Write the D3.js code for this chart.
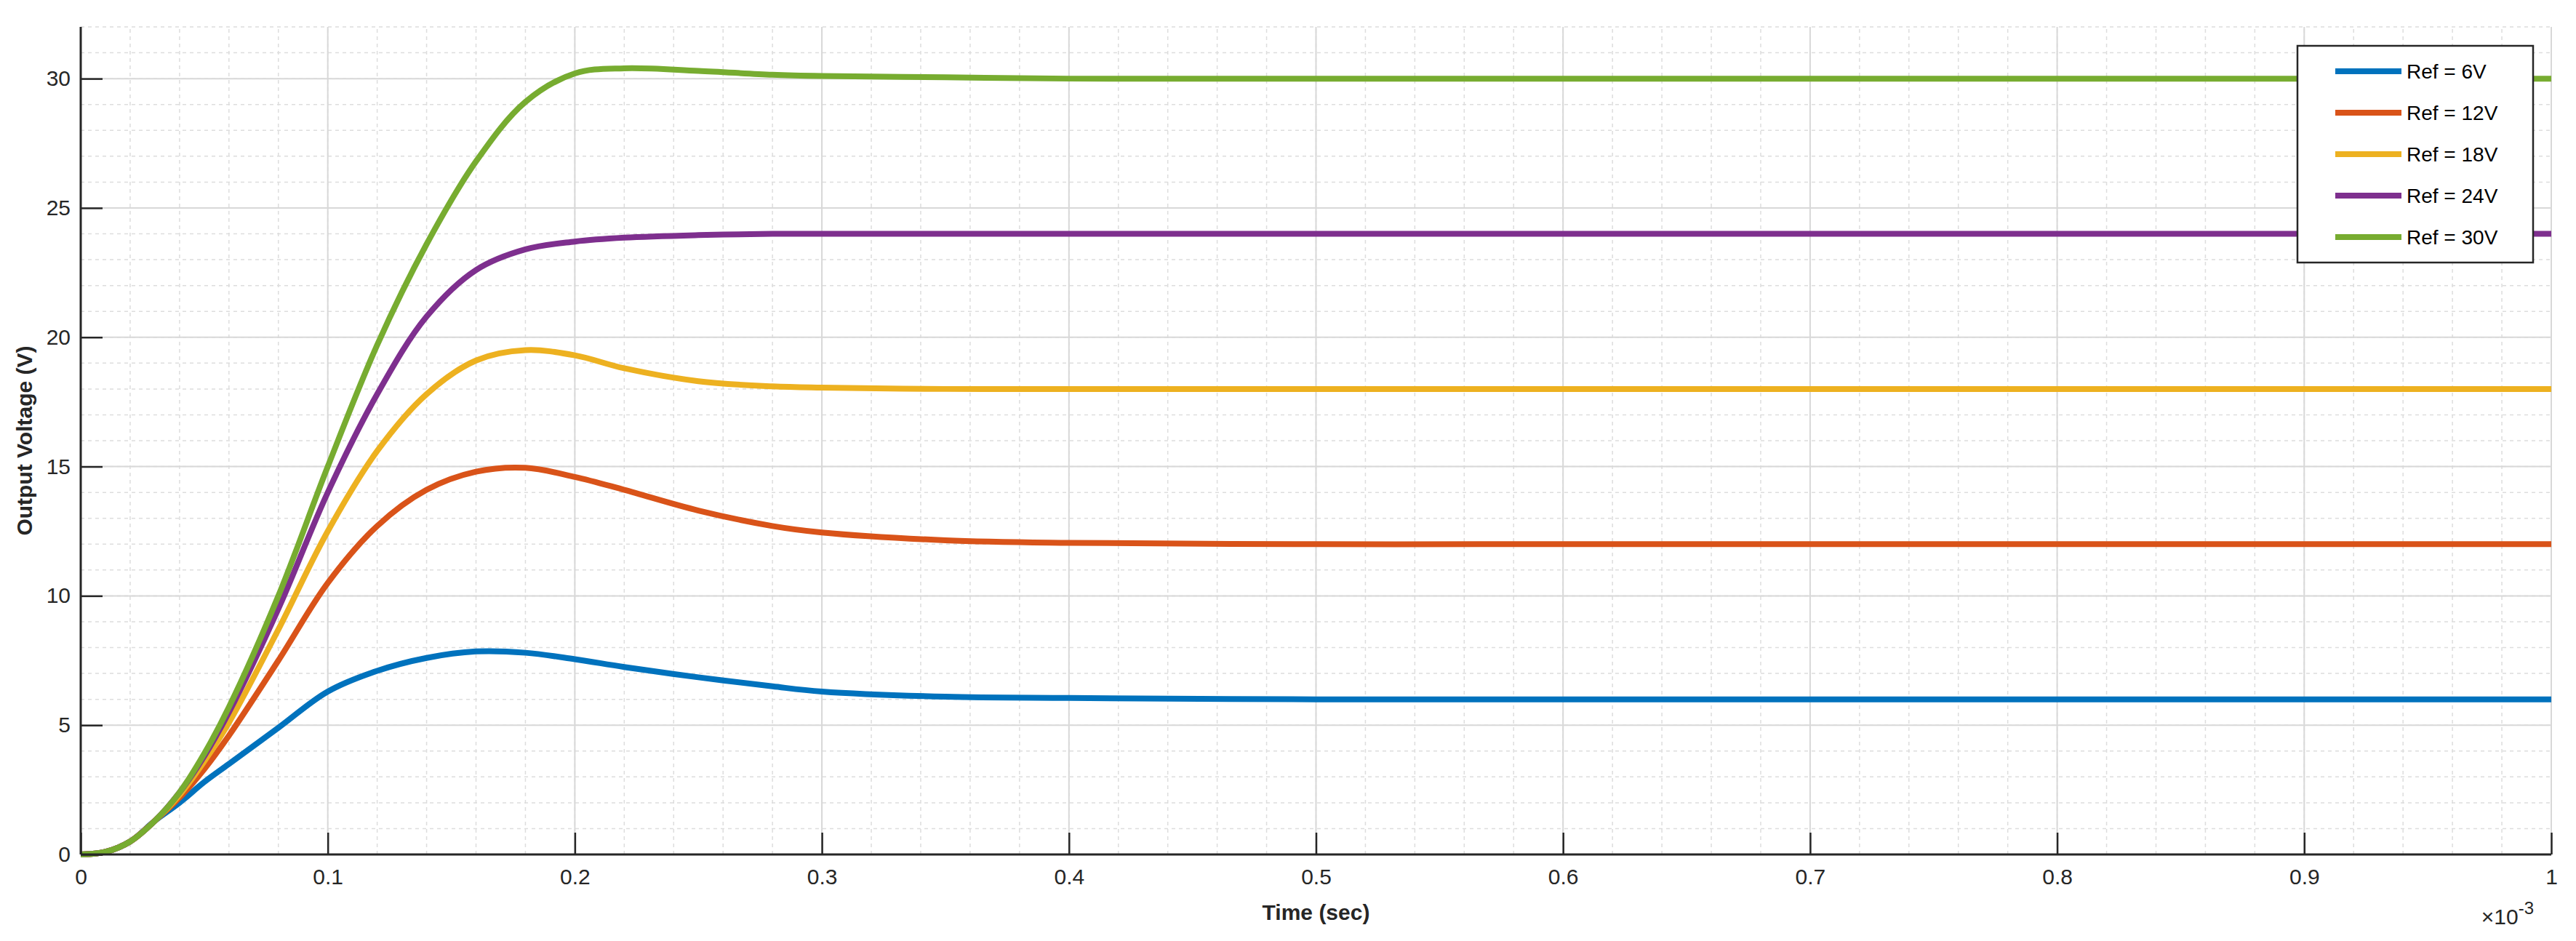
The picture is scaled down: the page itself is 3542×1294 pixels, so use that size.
<!DOCTYPE html>
<html><head><meta charset="utf-8">
<script src="https://cdn.jsdelivr.net/npm/d3@7"></script>
<style>body{margin:0;background:#fff}text{font-family:Helvetica,"Liberation Sans",Arial,sans-serif}</style>
</head><body><svg id="chart"></svg>
<script>
const width = 3542, height = 1294;
const margin = {left: 111, right: 34, top: 37, bottom: 119};

// time in units of 1e-3 s
const times = [0,0.01,0.02,0.03,0.04,0.05,0.06,0.08,0.1,0.12,0.14,0.16,0.18,0.2,0.22,0.25,0.28,0.3,0.35,0.4,0.5,0.6,0.8,1.0];
const ref6  = [0,0.1,0.5,1.3,2.0,2.8,3.5,4.9,6.3,7.1,7.6,7.85,7.8,7.55,7.25,6.85,6.5,6.3,6.1,6.05,6.0,6.0,6.0,6.0];
const ref12 = [0,0.1,0.5,1.3,2.2,3.3,4.6,7.5,10.5,12.7,14.1,14.8,14.95,14.6,14.1,13.3,12.7,12.45,12.15,12.05,12.0,12.0,12.0,12.0];
const ref18 = [0,0.1,0.5,1.3,2.3,3.6,5.1,8.7,12.5,15.6,17.8,19.1,19.5,19.3,18.8,18.3,18.1,18.05,18.0,18.0,18.0,18.0,18.0,18.0];
const ref24 = [0,0.1,0.5,1.3,2.4,3.8,5.5,9.5,14.0,17.8,20.8,22.6,23.4,23.7,23.85,23.95,24.0,24.0,24.0,24.0,24.0,24.0,24.0,24.0];
const ref30 = [0,0.1,0.5,1.3,2.4,3.9,5.7,10.0,15.0,19.7,23.6,26.8,29.1,30.2,30.4,30.3,30.15,30.1,30.05,30.0,30.0,30.0,30.0,30.0];
const seriesNames = ["Ref = 6V","Ref = 12V","Ref = 18V","Ref = 24V","Ref = 30V"];
const seriesColors = ["#0072BD","#D95319","#EDB120","#7E2F8E","#77AC30"];
const seriesValues = [ref6, ref12, ref18, ref24, ref30];
const xTicks = [0,0.1,0.2,0.3,0.4,0.5,0.6,0.7,0.8,0.9,1];
const yTicks = [0,5,10,15,20,25,30];

const svg = d3.select("#chart").attr("width", width).attr("height", height);
const x = d3.scaleLinear().domain([0,1]).range([margin.left, width - margin.right]);
const y = d3.scaleLinear().domain([0,32]).range([height - margin.bottom, margin.top]);
const x0 = margin.left, x1 = width - margin.right, y0 = height - margin.bottom, y1 = margin.top;

// minor grid
const g = svg.append("g");
d3.range(0, 1.0001, 0.02).forEach(v => g.append("line").attr("x1", x(v)).attr("x2", x(v)).attr("y1", y0).attr("y2", y1)
  .attr("stroke", "#dddddd").attr("stroke-width", 1.5).attr("stroke-dasharray", "5,5"));
d3.range(0, 32.001, 1).forEach(v => g.append("line").attr("x1", x0).attr("x2", x1).attr("y1", y(v)).attr("y2", y(v))
  .attr("stroke", "#dddddd").attr("stroke-width", 1.5).attr("stroke-dasharray", "5,5"));
// major grid
xTicks.forEach(v => g.append("line").attr("x1", x(v)).attr("x2", x(v)).attr("y1", y0).attr("y2", y1).attr("stroke", "#d8d8d8").attr("stroke-width", 2));
yTicks.forEach(v => g.append("line").attr("x1", x0).attr("x2", x1).attr("y1", y(v)).attr("y2", y(v)).attr("stroke", "#d8d8d8").attr("stroke-width", 2));

const line = d3.line().x((d, i) => x(times[i])).y(d => y(d)).curve(d3.curveCatmullRom.alpha(0.5));
seriesValues.forEach((vals, k) => svg.append("path").datum(vals).attr("d", line)
  .attr("fill", "none").attr("stroke", seriesColors[k]).attr("stroke-width", 8));

// axes
const xAxis = svg.append("g").attr("transform", `translate(0,${y0})`)
  .call(d3.axisBottom(x).tickValues(xTicks).tickSize(-30).tickPadding(20).tickFormat(d => d3.format("~g")(d)));
const yAxis = svg.append("g").attr("transform", `translate(${x0},0)`)
  .call(d3.axisLeft(y).tickValues(yTicks).tickSize(-30).tickPadding(14));
[xAxis, yAxis].forEach(a => {
  a.select(".domain").remove();
  a.selectAll(".tick line").attr("stroke", "#262626").attr("stroke-width", 2.5);
  a.selectAll("text").attr("font-size", 30).attr("fill", "#262626");
});
svg.append("line").attr("x1", x0).attr("x2", x1).attr("y1", y0).attr("y2", y0).attr("stroke", "#262626").attr("stroke-width", 3);
svg.append("line").attr("x1", x0).attr("x2", x0).attr("y1", y0).attr("y2", y1).attr("stroke", "#262626").attr("stroke-width", 3);

svg.append("text").attr("x", (x0 + x1) / 2).attr("y", y0 + 90).attr("text-anchor", "middle")
  .attr("font-size", 30).attr("font-weight", "bold").attr("fill", "#262626").text("Time (sec)");
svg.append("text").attr("transform", `translate(44,${(y0 + y1) / 2}) rotate(-90)`).attr("text-anchor", "middle")
  .attr("font-size", 30).attr("font-weight", "bold").attr("fill", "#262626").text("Output Voltage (V)");
const ex = svg.append("text").attr("x", x1 - 24).attr("y", y0 + 96).attr("text-anchor", "end").attr("font-size", 30).attr("fill", "#262626");
ex.append("tspan").text("×10");
ex.append("tspan").attr("dy", -14).attr("font-size", 24).text("-3");

// legend
const lg = svg.append("g").attr("transform", "translate(3159,63)");
lg.append("rect").attr("width", 324).attr("height", 298).attr("fill", "#fff").attr("stroke", "#262626").attr("stroke-width", 2.5);
seriesNames.forEach((n, k) => {
  const yy = 35 + k * 57;
  lg.append("line").attr("x1", 52).attr("x2", 143).attr("y1", yy).attr("y2", yy).attr("stroke", seriesColors[k]).attr("stroke-width", 8);
  lg.append("text").attr("x", 150).attr("y", yy + 10).attr("font-size", 28).attr("fill", "#000").text(n);
});
</script></body></html>
